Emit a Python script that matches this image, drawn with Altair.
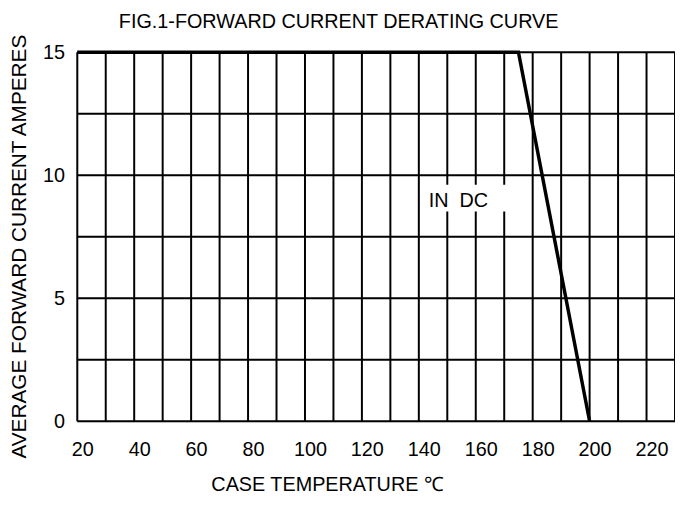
import altair as alt
import pandas as pd

# Derating curve (case temperature in °C, average forward current in A)
temp = [20, 175, 200]
current = [15, 15, 0]

# Grid and tick values
x_grid = [20, 30, 40, 50, 60, 70, 80, 90, 100, 110, 120, 130, 140, 150, 160, 170, 180, 190, 200, 210, 220, 230]
x_labels = [20, 40, 60, 80, 100, 120, 140, 160, 180, 200, 220]
y_grid = [0, 2.5, 5, 7.5, 10, 12.5, 15]
y_labels = [0, 5, 10, 15]

# Annotation "IN DC" (data units)
note_text = ["IN\u00a0 DC"]
note_x = [143.5]
note_y = [8.69]
box_x = [141.7]
box_x2 = [171.9]
box_y = [8.53]
box_y2 = [9.61]

title_text = ["FIG.1-FORWARD CURRENT DERATING CURVE"]

FONT = "Liberation Sans"

curve = pd.DataFrame({"t": temp, "i": current})
note = pd.DataFrame({"label": note_text, "x": note_x, "y": note_y})
box = pd.DataFrame({"x": box_x, "x2": box_x2, "y": box_y, "y2": box_y2})
vgrid = pd.DataFrame({"x": x_grid})
hgrid = pd.DataFrame({"y": y_grid})
ttl = pd.DataFrame({"t": title_text})

lab_expr_x = "indexof(" + str(x_labels) + ", datum.value) >= 0 ? datum.label : ''"

x_scale = alt.Scale(domain=[20, 230], nice=False, zero=False)
y_scale = alt.Scale(domain=[0, 15], nice=False, zero=False)

x_axis = alt.Axis(
    values=x_labels, grid=False,
    domain=False, ticks=False, labelFont=FONT, labelFontSize=20,
    labelColor="black", labelPadding=19, labelOffset=5, labelFlush=False,
    title="CASE TEMPERATURE  ℃", titleFont=FONT, titleFontSize=20, titleFontWeight="normal",
    titleColor="black", titleX=135, titleY=70, titleAlign="left", titleBaseline="alphabetic",
)
y_axis = alt.Axis(
    values=y_labels, grid=False,
    domain=False, ticks=False, labelFont=FONT, labelFontSize=20,
    labelColor="black", labelPadding=13, labelFlush=False,
    title="AVERAGE FORWARD CURRENT AMPERES", titleFont=FONT, titleFontSize=21,
    titleFontWeight="normal", titleColor="black", titleX=-52, titleY=196,
    titleAlign="center", titleBaseline="alphabetic", titleAngle=270,
)

vlines = alt.Chart(vgrid).mark_rule(color="black", strokeWidth=2).encode(
    x=alt.X("x:Q", scale=x_scale, axis=x_axis),
)
hlines = alt.Chart(hgrid).mark_rule(color="black", strokeWidth=2).encode(
    y=alt.Y("y:Q", scale=y_scale, axis=y_axis),
)

rect = alt.Chart(box).mark_rect(color="white").encode(
    x=alt.X("x:Q", scale=x_scale), x2="x2:Q",
    y=alt.Y("y:Q", scale=y_scale), y2="y2:Q",
)

text = alt.Chart(note).mark_text(
    font=FONT, fontSize=20, color="black", align="left", baseline="alphabetic"
).encode(
    x=alt.X("x:Q", scale=x_scale),
    y=alt.Y("y:Q", scale=y_scale),
    text="label:N",
)

line = alt.Chart(curve).mark_line(color="black", strokeWidth=3.5).encode(
    x=alt.X("t:Q", scale=x_scale),
    y=alt.Y("i:Q", scale=y_scale),
)

title = alt.Chart(ttl).mark_text(
    font=FONT, fontSize=20, color="black", align="left", baseline="alphabetic"
).encode(
    x=alt.value(42), y=alt.value(-24), text="t:N",
)

chart = alt.layer(vlines, hlines, rect, text, line, title).properties(
    width=604,
    height=373,
    autosize=alt.AutoSizeParams(type="none"),
    padding={"left": 70, "top": 42, "right": 0, "bottom": 85},
).configure_view(stroke=None).configure(background="white")

chart.save("out.html", embed_options={"renderer": "svg", "actions": False})
